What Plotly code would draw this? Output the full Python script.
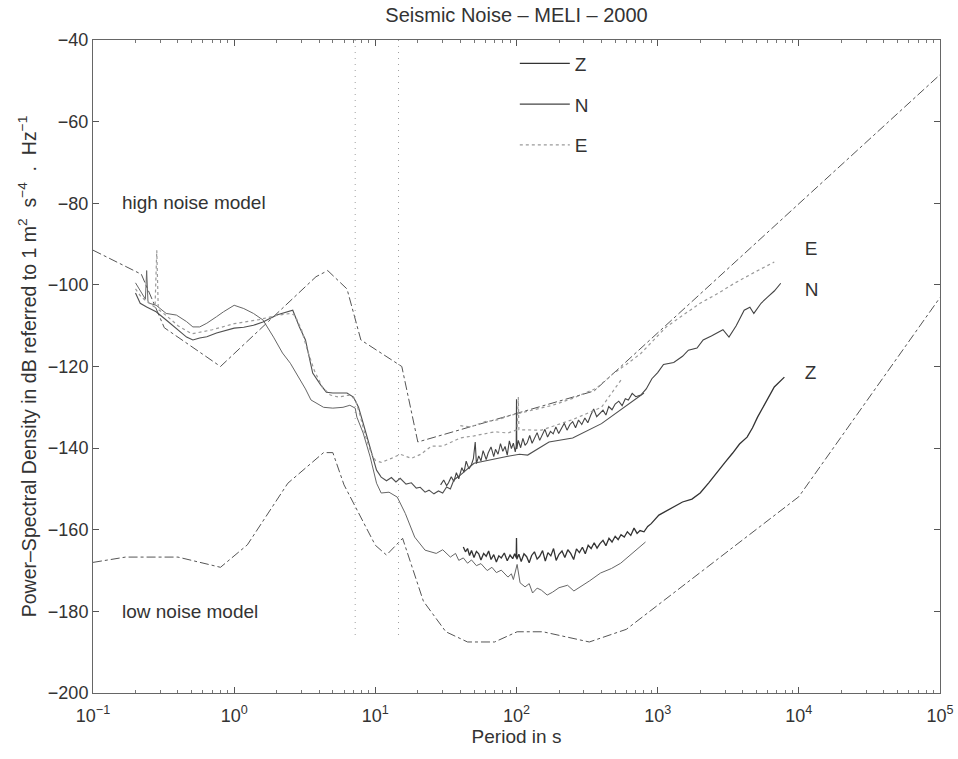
import plotly.graph_objects as go

# ---- Peterson noise models (period in s, PSD in dB) ----
nhnm_period = [0.1, 0.22, 0.32, 0.8, 3.8, 4.6, 6.3, 7.9, 15.4, 20, 354.8, 1e5]
nhnm_db = [-91.5, -97.4, -110.5, -120.0, -98.0, -96.5, -101.0, -113.5, -120.0, -138.5, -126.0, -48.5]

nlnm_period = [0.1, 0.17, 0.4, 0.8, 1.24, 2.4, 4.3, 5.0, 6.0, 10, 12, 15.6, 21.9, 31.6,
               45, 70, 101, 154, 328, 600, 1e4, 1e5]
nlnm_db = [-168.0, -166.7, -166.7, -169.2, -163.7, -148.6, -141.1, -141.1, -149.0, -163.8,
           -166.2, -162.1, -177.5, -185.0, -187.5, -187.5, -185.0, -185.0, -187.5, -184.4,
           -151.9, -103.1]

# ---- MELI spectra, short record (0.2 s to ~800 s) ----
z_short_period = [0.20, 0.22, 0.235, 0.24, 0.245, 0.25, 0.28, 0.33, 0.39, 0.46, 0.51, 0.57,
                  0.64, 0.75, 0.84, 1.0, 1.17, 1.37, 1.6, 1.9, 2.2, 2.5, 2.9, 3.2, 3.5, 4.3,
                  5.0, 5.9, 6.6, 7.2, 7.4, 8.2, 9.2, 10.2, 11.0, 12.5, 14.3, 16.3, 19, 22.5,
                  27, 30, 34, 37, 39, 42, 45, 48, 52, 56, 62, 67, 72, 78, 87, 92, 95, 101, 106,
                  115, 123, 130, 140, 150, 165, 180, 200, 230, 255, 284, 330, 394, 470, 547,
                  670, 820]
z_short_db = [-99.5, -102, -103.5, -96.5, -104, -104.5, -105, -107, -107.4, -109, -110.3,
              -110.3, -109.4, -107.8, -106.6, -105, -105.8, -107, -108.6, -112.8, -116.7,
              -119.2, -123, -125.5, -128.2, -130, -130.2, -130, -129.5, -130.2, -132.4,
              -136.3, -142.2, -148.6, -151, -150.8, -152, -156, -161.8, -165, -165.8, -164.9,
              -166.7, -165.8, -167.5, -166.9, -168.2, -167.4, -168.8, -168.3, -170, -169.2,
              -170.5, -169.9, -171.6, -170.8, -172.2, -168.5, -173, -174, -173.2, -175.5,
              -174.3, -174.8, -176, -175.3, -174.2, -173.6, -175, -174, -172.5, -170.6, -169.5,
              -168.2, -165.7, -163]

n_short_period = [0.20, 0.216, 0.24, 0.28, 0.33, 0.39, 0.46, 0.51, 0.57, 0.64, 0.75, 1.0,
                  1.17, 1.37, 1.6, 2.0, 2.3, 2.6, 2.9, 3.2, 3.4, 3.6, 4.1, 4.5, 5.0, 6.3, 7.0,
                  7.6, 8.2, 9.2, 10.2, 11, 12, 13, 14, 15, 16.5, 18, 19.5, 20.8, 22.5, 24, 26,
                  28, 30, 32, 34, 36, 40, 50, 62, 75, 87, 105, 120, 170, 250, 400, 600, 800]
n_short_db = [-102, -104.5, -105.4, -106.6, -108.6, -110.6, -112.8, -113.5, -113, -112.7,
              -111.8, -110.6, -110.4, -109.9, -109.1, -107.4, -106.8, -106.2, -110.3, -113.5,
              -117.7, -121.6, -124.5, -126.3, -126.5, -126.5, -127.5, -130, -133.9, -139.8,
              -145.4, -147.1, -148, -147.2, -148.3, -147.4, -148.8, -148.5, -149.8, -149.6,
              -150.8, -150.3, -151.2, -150.5, -151, -149.5, -150, -147.8, -146.6, -143.7,
              -143, -142.5, -142, -141.5, -141.7, -138.5, -137.5, -134, -129.5, -126.5]

e_short_period = [0.20, 0.22, 0.25, 0.275, 0.283, 0.29, 0.33, 0.4, 0.5, 0.7, 1.0, 1.5, 2.0,
                  2.5, 2.7, 3.0, 3.3, 3.7, 4.2, 4.8, 5.5, 6.5, 7.2, 7.8, 8.5, 9.3, 10, 11, 13,
                  15, 18, 21, 25, 30, 40, 50, 70, 87, 101, 103, 104, 150, 250, 400, 550]
e_short_db = [-101, -103, -104.5, -105.5, -91.5, -106, -107.5, -110, -112, -111, -109.5,
              -108.5, -107.5, -107, -107.5, -111, -116, -121, -125, -127, -127.5, -127, -128,
              -132, -137, -141, -143, -143.5, -142.5, -141.5, -142.5, -141.5, -139.5, -139.5,
              -137.5, -137, -136, -136.3, -135.5, -127.5, -135.5, -135.6, -133, -130, -123.3]

# ---- MELI spectra, long record (~30 s to ~8000 s) ----
z_long_period = [42, 43.5, 45, 46.5, 48, 50, 52, 54, 56, 58.5, 61, 63.5, 66, 69, 72, 75, 78,
                 82, 86, 90, 94, 97, 99.5, 100, 100.5, 104, 108, 113, 118, 123, 128, 134, 140,
                 146, 153, 160, 167, 175, 183, 191, 200, 210, 220, 231, 242, 254, 266, 279,
                 293, 307, 322, 338, 355, 372, 390, 410, 430, 452, 475, 500, 525, 550, 580,
                 610, 645, 680, 715, 750, 800, 850, 900, 1020, 1200, 1350, 1500, 1750, 2000,
                 2300, 2600, 3000, 3400, 3800, 4300, 4700, 5100, 6000, 6700, 7900]
z_long_db = [-164.2, -165.4, -164.6, -166.3, -165.1, -166.8, -165.3, -165.9, -167.4, -165.8,
             -166.5, -165.2, -167.3, -166.1, -167.9, -166.4, -166.9, -165.7, -167.6, -166.2,
             -167.1, -165.9, -166.8, -162, -167.2, -166, -167.8, -165.9, -166.6, -168.1,
             -166.3, -165.4, -167.2, -166.5, -165.1, -167.7, -165.6, -166.4, -164.6, -167.5,
             -166, -165.2, -166.8, -164.9, -165.8, -167.3, -164.7, -165.6, -164.3, -165.9,
             -163.8, -164.6, -163.2, -164.5, -163.4, -162.6, -163.9, -162.1, -163, -161.6,
             -162.4, -161.2, -161.8, -160.5, -161.4, -159.6, -160.9, -160.2, -160.5, -159.2,
             -158.5, -156.4, -155, -154, -153.2, -152.5, -151, -148.5, -146.1, -143.5,
             -141.2, -139, -137.3, -135, -132.4, -128, -125, -122.6]

n_long_period = [29, 30.5, 32, 33, 34.5, 36, 37.5, 39, 41, 42.5, 44, 46, 48, 49.5, 51, 52, 54,
                 56, 58, 61, 63, 66, 69, 71, 74, 77, 80, 83, 86, 89, 92, 95, 98, 99.5, 100,
                 100.5, 103, 107, 111, 115, 119, 124, 129, 134, 140, 146, 152, 159, 166, 174,
                 182, 190, 199, 208, 218, 228, 239, 250, 262, 275, 290, 305, 320, 336, 352,
                 370, 390, 410, 430, 450, 475, 500, 530, 560, 590, 620, 660, 700, 760, 830,
                 910, 1000, 1100, 1300, 1500, 1650, 1900, 2100, 2400, 2650, 2900, 3200, 3600,
                 4100, 4500, 4800, 5400, 6000, 6700, 7450]
n_long_db = [-149, -147.8, -149.2, -148.5, -147, -148.2, -146, -147.5, -144.8, -145.9, -143.2,
             -145.1, -144, -142.6, -138.5, -143.8, -141.9, -143.1, -140.6, -142.8, -141.2,
             -139.7, -142.1, -140.3, -141.5, -138.9, -140.8, -139.6, -141.7, -138.2, -140.1,
             -138.8, -140.9, -139.5, -128, -140.2, -138.1, -139.9, -137.6, -139.3, -138.7,
             -136.9, -138.8, -137.4, -136.2, -138.1, -136.7, -135.4, -137.3, -135.9, -136.5,
             -134.8, -136.4, -135.1, -133.9, -135.6, -134.2, -133.5, -135, -133.1, -134.2,
             -132.6, -133.8, -131.9, -130.4, -132.3, -131.5, -130.7, -131.9, -129.8, -130.6,
             -129.2, -128.5, -129.6, -127.9, -128.2, -126.6, -127.4, -127, -125.5, -123,
             -121.5, -119.5, -119, -117.5, -116, -115.5, -113.5, -112.5, -111.8, -111, -112.8,
             -110, -106.2, -105.5, -107, -104.5, -103, -101.5, -99.6]

e_long_period = [40, 47, 60, 73, 90, 126, 180, 250, 370, 490, 600, 760, 1020, 1150, 1500, 2000,
                 2700, 3500, 4800, 6700]
e_long_db = [-134.5, -134.8, -133.5, -133.1, -132, -130.7, -129.5, -127.8, -125.3, -121.6,
             -119.5, -116.8, -112.3, -110.3, -107.5, -104.5, -102, -99.6, -97, -94.4]

# microseism band markers
band_period = [7.2, 14.6]
band_db = [-40, -187]

# curve end labels
end_label_period = [11000, 11000, 11000]
end_label_db = [-91.5, -101.5, -122]
end_label_text = ["E", "N", "Z"]

fig = go.Figure()

model_line = dict(color="#555555", width=1, dash="dashdot")
fig.add_trace(go.Scatter(x=nhnm_period, y=nhnm_db, mode="lines", line=model_line, showlegend=False))
fig.add_trace(go.Scatter(x=nlnm_period, y=nlnm_db, mode="lines", line=model_line, showlegend=False))

for p in band_period:
    fig.add_trace(go.Scatter(x=[p, p], y=band_db, mode="lines",
                             line=dict(color="#a0a0a0", width=1, dash="1px,5px"), showlegend=False))

z_style = dict(color="#333333", width=1.3)
n_style = dict(color="#444444", width=1.1)
e_style = dict(color="#9a9a9a", width=1.2, dash="dot")

fig.add_trace(go.Scatter(x=z_long_period, y=z_long_db, mode="lines", name="Z",
                         legendgroup="Z", line=z_style))
fig.add_trace(go.Scatter(x=z_short_period, y=z_short_db, mode="lines", name="Z",
                         legendgroup="Z", showlegend=False, line=dict(color="#666666", width=1)))
fig.add_trace(go.Scatter(x=n_long_period, y=n_long_db, mode="lines", name="N",
                         legendgroup="N", line=n_style))
fig.add_trace(go.Scatter(x=n_short_period, y=n_short_db, mode="lines", name="N",
                         legendgroup="N", showlegend=False, line=dict(color="#505050", width=1.1)))
fig.add_trace(go.Scatter(x=e_long_period, y=e_long_db, mode="lines", name="E",
                         legendgroup="E", line=e_style))
fig.add_trace(go.Scatter(x=e_short_period, y=e_short_db, mode="lines", name="E",
                         legendgroup="E", showlegend=False, line=e_style))

font_family = "Liberation Sans, Arial, sans-serif"
tick_font = dict(family=font_family, size=18, color="#333333")
text_font = dict(family=font_family, size=19, color="#333333")

fig.add_trace(go.Scatter(x=end_label_period, y=end_label_db, mode="text", text=end_label_text,
                         textposition="middle right", textfont=text_font,
                         showlegend=False))

fig.add_annotation(x=-0.81, y=-79.7, xref="x", yref="y", text="high noise model",
                   showarrow=False, xanchor="left", font=text_font)
fig.add_annotation(x=-0.81, y=-180, xref="x", yref="y", text="low noise model",
                   showarrow=False, xanchor="left", font=text_font)

major_vals = [1e-1, 1e0, 1e1, 1e2, 1e3, 1e4, 1e5]
major_text = ["10<sup>\u22121</sup>", "10<sup>0</sup>", "10<sup>1</sup>", "10<sup>2</sup>",
              "10<sup>3</sup>", "10<sup>4</sup>", "10<sup>5</sup>"]
minor_vals = [m * 10 ** e for e in range(-1, 5) for m in range(2, 10)]

fig.update_xaxes(type="log", range=[-1, 5], tickmode="array", tickvals=major_vals,
                 ticktext=major_text, ticks="inside", ticklen=6, tickcolor="#555555",
                 mirror="ticks", showline=True, linecolor="#666666", linewidth=1,
                 showgrid=False, zeroline=False, ticklabelstandoff=6, automargin=False,
                 minor=dict(tickmode="array", tickvals=minor_vals, ticks="inside",
                            ticklen=3, tickcolor="#777777", showgrid=False),
                 tickfont=tick_font, title=dict(text="Period in s", font=text_font, standoff=2))
fig.update_yaxes(range=[-200, -40], tickmode="linear", tick0=-200, dtick=20,
                 ticks="inside", ticklen=6, tickcolor="#555555", mirror="ticks",
                 showline=True, linecolor="#666666", linewidth=1, showgrid=False,
                 zeroline=False, tickfont=tick_font, automargin=False,
                 title=dict(text="Power\u2013Spectral Density in dB referred to 1 m<sup>2</sup>  s<sup>\u22124</sup>  .  Hz<sup>\u22121</sup>",
                            font=dict(family=font_family, size=19.5, color="#333333"), standoff=6))

fig.update_layout(
    width=958, height=759,
    margin=dict(l=93, r=18, t=40, b=66),
    paper_bgcolor="white", plot_bgcolor="white",
    font=text_font,
    title=dict(text="Seismic Noise \u2013 MELI \u2013 2000", x=0.5, xref="paper",
               y=1 - 15 / 759, yanchor="middle",
               font=dict(family=font_family, size=20, color="#333333")),
    legend=dict(x=0.498, y=0.993, xanchor="left", yanchor="top", traceorder="grouped",
                tracegroupgap=13, bgcolor="rgba(0,0,0,0)", font=text_font,
                itemwidth=50),
)

fig.write_html("out.html")
